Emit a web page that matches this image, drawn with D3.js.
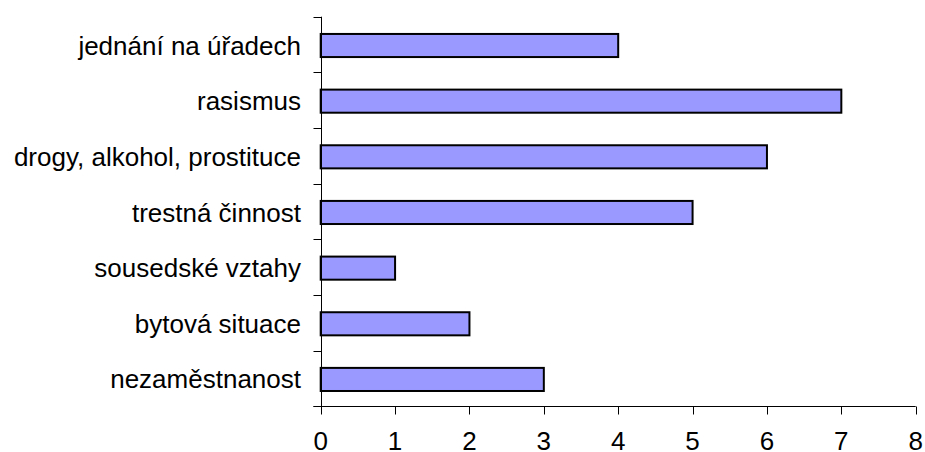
<!DOCTYPE html>
<html>
<head>
<meta charset="utf-8">
<script src="https://cdn.jsdelivr.net/npm/d3@7"></script>
<style>
  body { margin: 0; background: #fff; overflow: hidden; }
  text { font-family: "Liberation Sans", Arial, sans-serif; fill: #000; }
</style>
</head>
<body>
<svg width="925" height="452"></svg>
<script>
var categories = ["jednání na úřadech", "rasismus", "drogy, alkohol, prostituce",
                  "trestná činnost", "sousedské vztahy", "bytová situace", "nezaměstnanost"];
var values = [4, 7, 6, 5, 1, 2, 3];
var xTicks = [0, 1, 2, 3, 4, 5, 6, 7, 8];

var svg = d3.select("svg");

var x = d3.scaleLinear().domain([0, 8]).range([320.7, 915.7]);
var y = d3.scaleBand().domain(categories).range([16.7, 406.3]).padding(0);
var bw = y.bandwidth();

// bars
svg.append("g")
  .selectAll("rect")
  .data(values)
  .enter().append("rect")
  .attr("x", x(0))
  .attr("y", function (d, i) { return y(categories[i]) + bw * 0.31; })
  .attr("width", function (d) { return x(d) - x(0); })
  .attr("height", bw * 0.415)
  .attr("fill", "#9999ff")
  .attr("stroke", "#000")
  .attr("stroke-width", 2);

// y axis line + ticks between categories
var yl = Math.round(x(0)) + 0.5;
svg.append("line")
  .attr("x1", yl).attr("x2", yl)
  .attr("y1", y.range()[0]).attr("y2", y.range()[1])
  .attr("stroke", "#000");

var bounds = categories.map(function (c) { return y(c); }).concat([y.range()[1]]);
svg.append("g")
  .selectAll("line")
  .data(bounds)
  .enter().append("line")
  .attr("x1", yl - 8).attr("x2", yl)
  .attr("y1", function (d) { return Math.round(d) + 0.5; })
  .attr("y2", function (d) { return Math.round(d) + 0.5; })
  .attr("stroke", "#000");

// category labels
svg.append("g")
  .selectAll("text")
  .data(categories)
  .enter().append("text")
  .attr("x", 301)
  .attr("y", function (d) { return y(d) + bw / 2 + 10; })
  .attr("text-anchor", "end")
  .attr("font-size", 26)
  .text(function (d) { return d; });

// x axis
var xa = Math.round(y.range()[1]) + 0.5;
svg.append("line")
  .attr("x1", yl - 8).attr("x2", x(8))
  .attr("y1", xa).attr("y2", xa)
  .attr("stroke", "#000");

svg.append("g")
  .selectAll("line")
  .data(xTicks)
  .enter().append("line")
  .attr("x1", function (d) { return Math.round(x(d)) + 0.5; })
  .attr("x2", function (d) { return Math.round(x(d)) + 0.5; })
  .attr("y1", xa).attr("y2", xa + 8)
  .attr("stroke", "#000");

svg.append("g")
  .selectAll("text")
  .data(xTicks)
  .enter().append("text")
  .attr("x", function (d) { return x(d); })
  .attr("y", 450)
  .attr("text-anchor", "middle")
  .attr("font-size", 26)
  .text(function (d) { return d; });
</script>
</body>
</html>
